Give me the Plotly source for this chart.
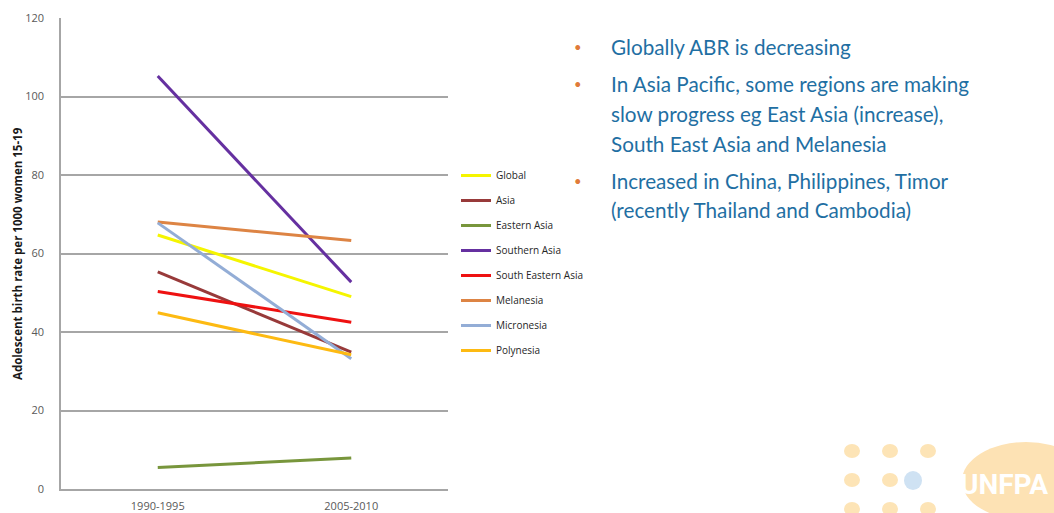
import plotly.graph_objects as go

# Adolescent birth rate (births per 1000 women aged 15-19)
periods = ["1990-1995", "2005-2010"]
regions = ["Global", "Asia", "Eastern Asia", "Southern Asia",
           "South Eastern Asia", "Melanesia", "Micronesia", "Polynesia"]
abr_1990_1995 = [64.7, 55.3, 5.5, 105.2, 50.3, 68.0, 67.8, 44.9]
abr_2005_2010 = [49.0, 34.9, 7.9, 52.7, 42.5, 63.3, 33.2, 34.2]
line_colors = ["#F5F500", "#983A3A", "#78963C", "#6530A0",
               "#EE1111", "#DD8444", "#93ADD6", "#FDBA12"]

y_ticks = [0, 20, 40, 60, 80, 100, 120]

bullets = [
    ["Globally ABR is decreasing"],
    ["In Asia Pacific, some regions are making",
     "slow progress eg East Asia (increase),",
     "South East Asia and Melanesia"],
    ["Increased in China, Philippines, Timor",
     "(recently Thailand and Cambodia)"],
]

W, H = 1054, 513


def px(x):
    return x / W


def py(y):
    return 1 - y / H


fig = go.Figure()
for name, a, b, c in zip(regions, abr_1990_1995, abr_2005_2010, line_colors):
    fig.add_trace(go.Scatter(
        x=periods, y=[a, b], mode="lines", name=name,
        legendgroup=name,
        line=dict(color=c, width=3),
    ))

tick_font = dict(family="Open Sans, sans-serif", size=11, color="#595959")

fig.update_layout(
    width=W, height=H,
    margin=dict(l=0, r=0, t=0, b=0),
    paper_bgcolor="white", plot_bgcolor="white",
    showlegend=True,
    xaxis=dict(
        domain=[px(61), px(448)],
        type="category", range=[-0.5, 1.5],
        showgrid=False, zeroline=False,
        showline=True, linecolor="#A6A6A6", linewidth=1.5,
        ticks="outside", ticklen=6, tickcolor="rgba(0,0,0,0)",
        tickfont=tick_font, automargin=False,
    ),
    yaxis=dict(
        domain=[py(489), py(18)],
        range=[0, 120], tickvals=y_ticks,
        showgrid=True, gridcolor="#A6A6A6", gridwidth=1.5,
        zeroline=False,
        showline=True, linecolor="#A6A6A6", linewidth=1.5,
        ticks="outside", ticklen=13, tickcolor="rgba(0,0,0,0)",
        tickfont=tick_font, automargin=False,
    ),
    legend=dict(
        x=px(456), y=py(161), xanchor="left", yanchor="top",
        traceorder="grouped", tracegroupgap=6,
        itemwidth=30,
        font=dict(family="Open Sans, sans-serif", size=10, color="#262626"),
        bgcolor="rgba(0,0,0,0)",
    ),
)

annotations = [dict(
    text="<b>Adolescent birth rate per 1000 women 15-19</b>",
    x=px(17), y=py(254), xref="paper", yref="paper",
    xanchor="center", yanchor="middle",
    textangle=-90, showarrow=False,
    font=dict(family="Open Sans, sans-serif", size=11.5, color="#1a1a1a"),
)]

# Bullet points on the right
line_y = [[47], [84, 114, 144], [181, 210]]
for lines, ys in zip(bullets, line_y):
    annotations.append(dict(
        text="•", x=px(578), y=py(ys[0]), xref="paper", yref="paper",
        xanchor="center", yanchor="middle", showarrow=False,
        font=dict(family="Lato, sans-serif", size=13, color="#E07B39"),
    ))
    for t, yy in zip(lines, ys):
        annotations.append(dict(
            text=t, x=px(609), y=py(yy), xref="paper", yref="paper",
            xanchor="left", yanchor="middle", showarrow=False,
            font=dict(family="Lato, sans-serif", size=20.7, color="#1F6FA3"),
        ))

# Faded UNFPA logo, bottom right
annotations.append(dict(
    text="<b>UNFPA</b>", x=px(1050), y=py(484), xref="paper", yref="paper",
    xanchor="right", yanchor="middle", showarrow=False,
    font=dict(family="Roboto, sans-serif", size=28, color="white"),
))
fig.update_layout(annotations=annotations)

shapes = []
dot = "#FDE4B6"
for cx, cy in [(852, 451), (890, 451), (928, 451),
               (852, 480), (890, 480),
               (852, 509), (890, 509), (928, 509)]:
    shapes.append(dict(type="circle", xref="paper", yref="paper",
                       x0=px(cx - 8), x1=px(cx + 8), y0=py(cy + 7), y1=py(cy - 7),
                       fillcolor=dot, line=dict(width=0), layer="below"))
shapes.append(dict(type="circle", xref="paper", yref="paper",
                   x0=px(904), x1=px(922), y0=py(490), y1=py(471),
                   fillcolor="#CFE2F3", line=dict(width=0), layer="below"))
shapes.append(dict(type="circle", xref="paper", yref="paper",
                   x0=px(962), x1=px(1090), y0=py(520), y1=py(442),
                   fillcolor="#FDE2B4", line=dict(width=0), layer="below"))
fig.update_layout(shapes=shapes)

fig.write_html("out.html")
